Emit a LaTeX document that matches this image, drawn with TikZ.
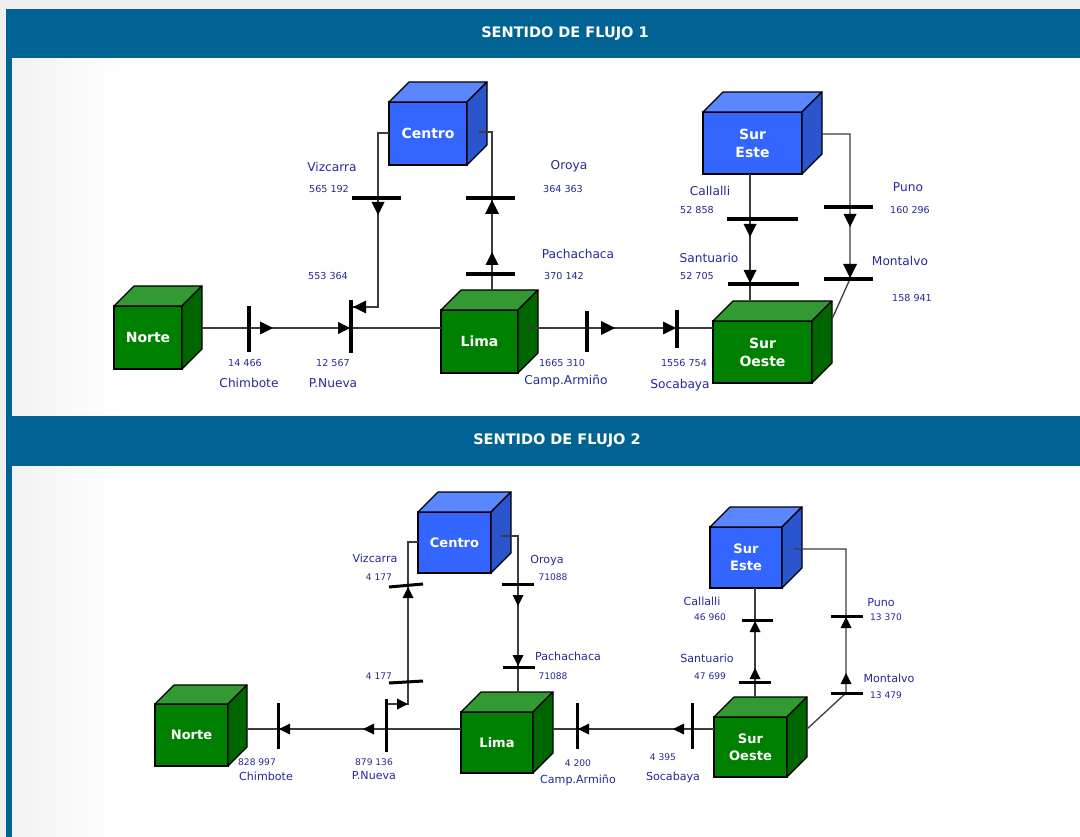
\documentclass[tikz,border=0pt]{standalone}
\usepackage{fontspec}
\setmainfont{DejaVu Sans}
\definecolor{hdr}{RGB}{0,99,148}
\definecolor{navy}{RGB}{40,40,150}
\definecolor{blueF}{RGB}{51,102,255}
\definecolor{blueT}{RGB}{90,134,255}
\definecolor{blueS}{RGB}{42,85,204}
\definecolor{greenF}{RGB}{0,128,0}
\definecolor{greenT}{RGB}{51,153,51}
\definecolor{greenS}{RGB}{0,102,0}
\definecolor{lineg}{RGB}{60,60,60}
\tikzset{
  cubefront/.style={draw=black, line width=1.2pt, anchor=north west, inner sep=0pt, outer sep=0pt, text=white, align=center},
  cubeA/.style={font=\bfseries\fontsize{14}{18}\selectfont},
  cubeB/.style={font=\bfseries\fontsize{13}{17}\selectfont},
  cubeedge/.style={draw=black, line width=1.2pt, line join=round},
  conn/.style={draw=lineg, line width=1.3pt},
  barA/.style={draw=black, line width=3.3pt},
  barB/.style={draw=black, line width=3pt},
  nmA/.style={text=navy, inner sep=0pt, font=\fontsize{12.2}{14}\selectfont},
  nuA/.style={text=navy, inner sep=0pt, font=\fontsize{9.6}{11}\selectfont},
  nmB/.style={text=navy, inner sep=0pt, font=\fontsize{11.1}{13}\selectfont},
  nuB/.style={text=navy, inner sep=0pt, font=\fontsize{9.1}{10}\selectfont},
  hdrtxt/.style={text=white, inner sep=0pt, font=\bfseries\fontsize{14.5}{16}\selectfont},
}
\newcommand{\mkcube}[9]{%
  \node[cubefront, #9, fill=#7F, minimum width=#4pt, minimum height=#5pt] (#1) at (#2,#3) {#8};
  \filldraw[cubeedge, fill=#7T] (#1.north west) -- ++(#6,-#6) -- ++(#4,0) -- (#1.north east) -- cycle;
  \filldraw[cubeedge, fill=#7S] (#1.north east) -- ++(#6,-#6) -- ++(0,#5) -- (#1.south east) -- cycle;
}
\newcommand{\arrR}[3][13]{\fill (#2,#3) -- ++(-#1,{-0.5*#1}) -- ++(0,#1) -- cycle;}
\newcommand{\arrL}[3][13]{\fill (#2,#3) -- ++(#1,{-0.5*#1}) -- ++(0,#1) -- cycle;}
\newcommand{\arrD}[3][13]{\fill (#2,#3) -- ++({-0.5*#1},-#1) -- ++(#1,0) -- cycle;}
\newcommand{\arrU}[3][13]{\fill (#2,#3) -- ++({-0.5*#1},#1) -- ++(#1,0) -- cycle;}
\begin{document}
\begin{tikzpicture}[x=1pt,y=-1pt]
\useasboundingbox (0,0) rectangle (1080,837);
% background
\fill[black!6] (0,0) rectangle (1080,837);
\fill[white] (12,9) rectangle (1080,837);
\shade[left color=black!5, right color=white] (12,58) rectangle (120,416);
\shade[left color=black!5, right color=white] (12,466) rectangle (120,837);
\fill[hdr] (6,9) rectangle (12,837);
\fill[hdr] (6,9) rectangle (1080,58);
\fill[hdr] (6,416) rectangle (1080,466);
\node[hdrtxt] (h1) at (565,34) {SENTIDO DE FLUJO 1};
\node[hdrtxt] (h2) at (557,441) {SENTIDO DE FLUJO 2};

% ================= FLOW 1 =================
\mkcube{norteA}{114}{306}{68}{63}{20}{green}{Norte}{cubeA}
\mkcube{centroA}{389}{102}{78}{63}{20}{blue}{Centro}{cubeA}
\mkcube{limaA}{441}{310}{77}{63}{20}{green}{Lima}{cubeA}
\mkcube{sesteA}{703}{112}{99}{62}{20}{blue}{Sur\\Este}{cubeA}
\mkcube{soesteA}{713}{321}{99}{62}{20}{green}{Sur\\Oeste}{cubeA}

% coordinates
\coordinate (a1) at (202,328);
\coordinate (a2) at (441,328);
\coordinate (a3) at (389,133);
\coordinate (a4) at (378,133);
\coordinate (a5) at (378,307);
\coordinate (a6) at (352,307);
\coordinate (a7) at (479,132);
\coordinate (a8) at (492,132);
\coordinate (a9) at (492,290);
\coordinate (a10) at (527,328);
\coordinate (a11) at (713,328);
\coordinate (a12) at (750,174);
\coordinate (a13) at (750,300);
\coordinate (a14) at (822,134);
\coordinate (a15) at (850,134);
\coordinate (a16) at (850,279);
\coordinate (a17) at (832,319);

\draw[conn] (a1) -- (a2);
\draw[conn] (a3) -- (a4) -- (a5) -- (a6);
\draw[conn] (a7) -- (a8) -- (a9);
\draw[conn] (a10) -- (a11);
\draw[conn] (a12) -- (a13);
\draw[conn] (a14) -- (a15) -- (a16) -- (a17);

% bars
\draw[barA] (249,306) -- (249,352);
\draw[barA] (351,300) -- (351,353);
\draw[barA] (352,198) -- (401,198);
\draw[barA] (466,198) -- (515,198);
\draw[barA] (466,274) -- (515,274);
\draw[barA] (587,311) -- (587,352);
\draw[barA] (677,310) -- (677,348);
\draw[barA] (727,219) -- (798,219);
\draw[barA] (728,284) -- (799,284);
\draw[barA] (824,207) -- (873,207);
\draw[barA] (824,279) -- (873,279);

% arrows
\arrR{273}{328}
\arrR[12]{350}{328}
\arrL{353}{307}
\arrD{378}{215}
\arrU[14]{492}{200}
\arrU{492}{252}
\arrR[14]{615}{328}
\arrR[13]{676}{328}
\arrD{750}{237}
\arrD[13]{750}{283}
\arrD{850}{227}
\arrD[14]{850}{278}

% labels
\node[nmA] (t1) at (332,167) {Vizcarra};
\node[nuA] (t2) at (329,189) {565 192};
\node[nuA] (t3) at (328,276) {553 364};
\node[nuA] (t4) at (245,363) {14 466};
\node[nmA] (t5) at (249,383) {Chimbote};
\node[nuA] (t6) at (333,363) {12 567};
\node[nmA] (t7) at (333,383) {P.Nueva};
\node[nmA] (t8) at (569,166) {Oroya};
\node[nuA] (t9) at (563,189) {364 363};
\node[nmA] (t10) at (578,254) {Pachachaca};
\node[nuA] (t11) at (564,276) {370 142};
\node[nuA] (t12) at (562,363) {1665 310};
\node[nmA] (t13) at (566,381) {Camp.Armiño};
\node[nuA] (t14) at (684,363) {1556 754};
\node[nmA] (t15) at (680,385) {Socabaya};
\node[nmA] (t16) at (710,191) {Callalli};
\node[nuA] (t17) at (697,210) {52 858};
\node[nmA] (t18) at (709,258) {Santuario};
\node[nuA] (t19) at (697,276) {52 705};
\node[nmA] (t20) at (908,187) {Puno};
\node[nuA] (t21) at (910,210) {160 296};
\node[nmA] (t22) at (900,261) {Montalvo};
\node[nuA] (t23) at (912,298) {158 941};

% ================= FLOW 2 =================
\mkcube{norteB}{155}{704}{73}{62}{19}{green}{Norte}{cubeB}
\mkcube{centroB}{418}{512}{73}{61}{20}{blue}{Centro}{cubeB}
\mkcube{limaB}{461}{712}{72}{61}{20}{green}{Lima}{cubeB}
\mkcube{sesteB}{710}{527}{72}{61}{20}{blue}{Sur\\Este}{cubeB}
\mkcube{soesteB}{714}{717}{73}{60}{20}{green}{Sur\\Oeste}{cubeB}

\coordinate (b1) at (247,729);
\coordinate (b2) at (461,729);
\coordinate (b3) at (386,704);
\coordinate (b4) at (408,704);
\coordinate (b5) at (408,542);
\coordinate (b6) at (418,542);
\coordinate (b7) at (501,536);
\coordinate (b8) at (518,536);
\coordinate (b9) at (518,692);
\coordinate (b10) at (553,729);
\coordinate (b11) at (714,729);
\coordinate (b12) at (755,588);
\coordinate (b13) at (755,697);
\coordinate (b14) at (794,549);
\coordinate (b15) at (846,549);
\coordinate (b16) at (846,693);
\coordinate (b17) at (807,729);

\draw[conn] (b1) -- (b2);
\draw[conn] (b3) -- (b4) -- (b5) -- (b6);
\draw[conn] (b7) -- (b8) -- (b9);
\draw[conn] (b10) -- (b11);
\draw[conn] (b12) -- (b13);
\draw[conn] (b14) -- (b15) -- (b16) -- (b17);

\draw[barB] (278,703) -- (278,749);
\draw[barB] (386,699) -- (386,752);
\draw[barB] (389,587) -- (423,584);
\draw[barB] (389,683) -- (423,681);
\draw[barB] (502,584) -- (534,584);
\draw[barB] (503,667) -- (535,667);
\draw[barB] (577,703) -- (577,749);
\draw[barB] (692,703) -- (692,749);
\draw[barB] (742,620) -- (773,620);
\draw[barB] (739,682) -- (771,682);
\draw[barB] (831,616) -- (863,616);
\draw[barB] (831,693) -- (863,693);

\arrL[11]{279}{729}
\arrL[11]{363}{729}
\arrR[11]{408}{704}
\arrU[11]{408}{587}
\arrD[11]{518}{606}
\arrD[11]{518}{666}
\arrL[11]{578}{729}
\arrL[11]{673}{729}
\arrU[11]{755}{621}
\arrU[11]{755}{668}
\arrU[11]{846}{617}
\arrU[11]{846}{673}

\node[nmB] (u1) at (375,558) {Vizcarra};
\node[nuB] (u2) at (379,577) {4 177};
\node[nuB] (u3) at (379,676) {4 177};
\node[nmB] (u4) at (547,561) {Oroya};
\node[nuB] (u5) at (553,577) {71088};
\node[nmB] (u6) at (568,656) {Pachachaca};
\node[nuB] (u7) at (553,676) {71088};
\node[nuB] (u8) at (257,762) {828 997};
\node[nmB] (u9) at (266,776) {Chimbote};
\node[nuB] (u10) at (374,762) {879 136};
\node[nmB] (u11) at (374,776) {P.Nueva};
\node[nuB] (u12) at (578,763) {4 200};
\node[nmB] (u13) at (578,780) {Camp.Armiño};
\node[nuB] (u14) at (663,757) {4 395};
\node[nmB] (u15) at (673,777) {Socabaya};
\node[nmB] (u16) at (702,601) {Callalli};
\node[nuB] (u17) at (710,617) {46 960};
\node[nmB] (u18) at (707,658) {Santuario};
\node[nuB] (u19) at (710,676) {47 699};
\node[nmB] (u20) at (881,603) {Puno};
\node[nuB] (u21) at (886,617) {13 370};
\node[nmB] (u22) at (889,678) {Montalvo};
\node[nuB] (u23) at (886,695) {13 479};
\end{tikzpicture}
\end{document}
